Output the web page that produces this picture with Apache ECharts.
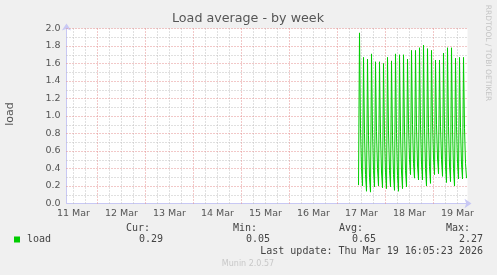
<!DOCTYPE html>
<html><head><meta charset="utf-8">
<script src="https://cdn.jsdelivr.net/npm/echarts@6/dist/echarts.min.js"></script>
<style>html,body{margin:0;padding:0;background:#F0F0F0}#c{width:497px;height:275px}</style>
</head><body><div id="c"></div>
<script>
// ---- data (hours counted from 11 Mar 00:00) ----
const startHour = 154.5;   // first sample: 17 Mar 10:30
const stepHours = 0.5;     // 30-minute samples
const loadValues = [
  0.21,
  1.95,0.86,0.40,0.20, 1.67,0.80,0.33,0.14, 1.65,0.78,0.30,0.13, 1.71,0.84,0.38,0.19,
  1.62,0.82,0.40,0.20, 1.62,0.80,0.36,0.18, 1.60,0.78,0.35,0.17, 1.67,0.83,0.38,0.19,
  1.63,0.78,0.33,0.15, 1.71,0.80,0.32,0.14, 1.70,0.82,0.36,0.17, 1.70,0.84,0.38,0.19,
  1.65,0.90,0.50,0.33, 1.75,0.90,0.46,0.29, 1.75,0.88,0.44,0.27, 1.78,0.90,0.45,0.27,
  1.81,0.86,0.40,0.20, 1.77,0.87,0.42,0.23, 1.75,0.93,0.52,0.33, 1.64,0.90,0.52,0.34,
  1.64,0.88,0.50,0.31, 1.72,0.86,0.43,0.24, 1.78,0.88,0.44,0.25, 1.78,0.85,0.40,0.20,
  1.66,0.88,0.46,0.28, 1.67,0.87,0.45,0.28, 1.67,0.86,0.46,0.29
];
const dayLabels = ['11 Mar','12 Mar','13 Mar','14 Mar','15 Mar','16 Mar','17 Mar','18 Mar','19 Mar'];
const statNames = ['Cur:','Min:','Avg:','Max:'];
const statValues = ['0.29','0.05','0.65','2.27'];
const seriesName = 'load';
const lastUpdate = 'Last update: Thu Mar 19 16:05:23 2026';

const xMin = 8.5, xMax = 209;
const GREEN = '#00CC00';

const seriesData = loadValues.map((v,i)=>[startHour + i*stepHours, v]);
const labelHours = dayLabels.map((d,i)=>12 + 24*i);

const vMinor = [], vMajor = [];
for (let h = 6; h <= xMax; h += 6) {
  if (h < xMin) continue;
  if (h % 24 === 0) vMajor.push({xAxis:h}); else vMinor.push({xAxis:h});
}
const hMinor = [], hMajor = [];
for (let k = 1; k <= 20; k++) {
  const v = +(k*0.1).toFixed(1);
  if (k % 2 === 0) hMajor.push({yAxis:v}); else hMinor.push({yAxis:v});
}

const chart = echarts.init(document.getElementById('c'), null, {renderer:'canvas'});
const axisCol = '#C8C8F4';
const mono = '10px "DejaVu Sans Mono"';
const statX = [150, 257, 363, 470];
const graphic = [
  {type:'text', x:248, y:19, style:{text:'Load average - by week', font:'12.7px "DejaVu Sans"', fill:'#555', align:'center', verticalAlign:'middle'}},
  {type:'text', x:10, y:114, rotation:Math.PI/2, style:{text:'load', font:'11px "DejaVu Sans"', fill:'#555', align:'center', verticalAlign:'middle'}},
  {type:'text', x:488, y:53, rotation:-Math.PI/2, style:{text:'RRDTOOL / TOBI OETIKER', font:'7.5px "DejaVu Sans"', fill:'#C4C4C4', align:'center', verticalAlign:'middle'}},
  {type:'rect', shape:{x:14, y:236.5, width:6, height:6}, style:{fill:GREEN}},
  {type:'text', x:27, y:239.5, style:{text:seriesName, font:mono, fill:'#444', align:'left', verticalAlign:'middle'}},
  {type:'text', x:483, y:251, style:{text:lastUpdate, font:mono, fill:'#444', align:'right', verticalAlign:'middle'}},
  {type:'text', x:248, y:264, style:{text:'Munin 2.0.57', font:'8px "DejaVu Sans"', fill:'#C8C8C8', align:'center', verticalAlign:'middle'}}
];
statNames.forEach((n,i)=>{
  graphic.push({type:'text', x:statX[i], y:228, style:{text:n, font:mono, fill:'#444', align:'right', verticalAlign:'middle'}});
  graphic.push({type:'text', x:statX[i]+13, y:239.5, style:{text:statValues[i], font:mono, fill:'#444', align:'right', verticalAlign:'middle'}});
});

const option = {
  backgroundColor:'#F0F0F0',
  animation:false,
  grid:{left:66.5, right:29.5, top:28.5, bottom:71.5, show:true, backgroundColor:'#FFFFFF', borderWidth:0},
  xAxis:{
    type:'value', min:xMin, max:xMax,
    axisLine:{show:true, onZero:false, lineStyle:{color:axisCol, width:1}, symbol:['none','arrow'], symbolSize:[7,7], symbolOffset:[0,4]},
    axisTick:{show:false}, splitLine:{show:false},
    axisLabel:{customValues:labelHours, formatter:(v)=>dayLabels[Math.round((v-12)/24)], color:'#555', fontSize:9.5, fontFamily:'DejaVu Sans', margin:5, hideOverlap:false}
  },
  yAxis:{
    type:'value', min:0, max:2, interval:0.2,
    axisLine:{show:true, onZero:false, lineStyle:{color:axisCol, width:1}, symbol:['none','arrow'], symbolSize:[7,7], symbolOffset:[0,5]},
    axisTick:{show:false}, splitLine:{show:false},
    axisLabel:{formatter:(v)=>v.toFixed(1), color:'#555', fontSize:9.5, fontFamily:'DejaVu Sans', margin:6}
  },
  graphic:graphic,
  series:[
    {type:'line', z:1, silent:true, data:[],
     markLine:{silent:true, symbol:'none', label:{show:false}, animation:false,
       data:[...vMinor, ...hMinor].map(d=>Object.assign({}, d, {lineStyle:{color:'#C0C0C0', type:[1,2], width:1}}))
     }},
    {type:'line', z:2, silent:true, data:[],
     markLine:{silent:true, symbol:'none', label:{show:false}, animation:false,
       data:[...vMajor, ...hMajor].map(d=>Object.assign({}, d, {lineStyle:{color:'#E49090', type:[1,2], width:1}}))
     }},
    {type:'line', name:seriesName, z:5, data:seriesData, showSymbol:false, symbol:'none',
     lineStyle:{color:GREEN, width:1}, itemStyle:{color:GREEN}}
  ]
};
chart.setOption(option);
</script></body></html>
